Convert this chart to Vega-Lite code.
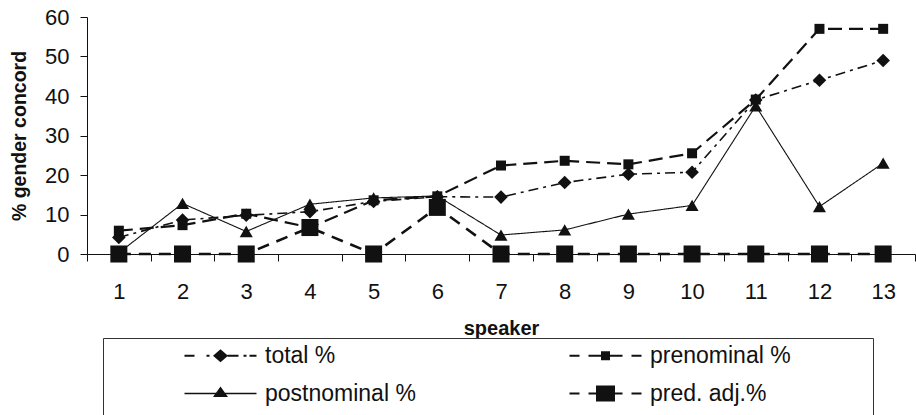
{
  "$schema": "https://vega.github.io/schema/vega-lite/v6.json",
  "width": 828,
  "height": 237,
  "autosize": {"type": "none"},
  "padding": {"left": 87, "top": 17, "right": 1, "bottom": 161},
  "background": "white",
  "config": {
    "view": {"stroke": null},
    "font": "Liberation Sans",
    "axis": {"grid": false, "domainColor": "#111", "tickColor": "#111", "labelColor": "#111", "titleColor": "#111", "labelFont": "Liberation Sans", "titleFont": "Liberation Sans"}
  },
  "data": {
    "values": [
      {"speaker": 1, "series": "total %", "value": 4.2},
      {"speaker": 2, "series": "total %", "value": 8.6},
      {"speaker": 3, "series": "total %", "value": 9.8},
      {"speaker": 4, "series": "total %", "value": 10.7},
      {"speaker": 5, "series": "total %", "value": 13.3},
      {"speaker": 6, "series": "total %", "value": 14.5},
      {"speaker": 7, "series": "total %", "value": 14.4},
      {"speaker": 8, "series": "total %", "value": 18.1},
      {"speaker": 9, "series": "total %", "value": 20.2},
      {"speaker": 10, "series": "total %", "value": 20.7},
      {"speaker": 11, "series": "total %", "value": 39.0},
      {"speaker": 12, "series": "total %", "value": 44.0},
      {"speaker": 13, "series": "total %", "value": 49.0},
      {"speaker": 1, "series": "prenominal %", "value": 5.9},
      {"speaker": 2, "series": "prenominal %", "value": 7.3},
      {"speaker": 3, "series": "prenominal %", "value": 10.2},
      {"speaker": 4, "series": "prenominal %", "value": 6.7},
      {"speaker": 5, "series": "prenominal %", "value": 13.6},
      {"speaker": 6, "series": "prenominal %", "value": 14.6},
      {"speaker": 7, "series": "prenominal %", "value": 22.4},
      {"speaker": 8, "series": "prenominal %", "value": 23.6},
      {"speaker": 9, "series": "prenominal %", "value": 22.7},
      {"speaker": 10, "series": "prenominal %", "value": 25.5},
      {"speaker": 11, "series": "prenominal %", "value": 39.1},
      {"speaker": 12, "series": "prenominal %", "value": 57.0},
      {"speaker": 13, "series": "prenominal %", "value": 57.0},
      {"speaker": 1, "series": "postnominal %", "value": 0.3},
      {"speaker": 2, "series": "postnominal %", "value": 12.8},
      {"speaker": 3, "series": "postnominal %", "value": 5.7},
      {"speaker": 4, "series": "postnominal %", "value": 12.6},
      {"speaker": 5, "series": "postnominal %", "value": 14.2},
      {"speaker": 6, "series": "postnominal %", "value": 14.7},
      {"speaker": 7, "series": "postnominal %", "value": 4.8},
      {"speaker": 8, "series": "postnominal %", "value": 6.1},
      {"speaker": 9, "series": "postnominal %", "value": 10.1},
      {"speaker": 10, "series": "postnominal %", "value": 12.3},
      {"speaker": 11, "series": "postnominal %", "value": 37.5},
      {"speaker": 12, "series": "postnominal %", "value": 12.0},
      {"speaker": 13, "series": "postnominal %", "value": 23.0},
      {"speaker": 1, "series": "pred. adj.%", "value": 0},
      {"speaker": 2, "series": "pred. adj.%", "value": 0},
      {"speaker": 3, "series": "pred. adj.%", "value": 0},
      {"speaker": 4, "series": "pred. adj.%", "value": 6.7},
      {"speaker": 5, "series": "pred. adj.%", "value": 0},
      {"speaker": 6, "series": "pred. adj.%", "value": 11.8},
      {"speaker": 7, "series": "pred. adj.%", "value": 0},
      {"speaker": 8, "series": "pred. adj.%", "value": 0},
      {"speaker": 9, "series": "pred. adj.%", "value": 0},
      {"speaker": 10, "series": "pred. adj.%", "value": 0},
      {"speaker": 11, "series": "pred. adj.%", "value": 0},
      {"speaker": 12, "series": "pred. adj.%", "value": 0},
      {"speaker": 13, "series": "pred. adj.%", "value": 0}
    ]
  },
  "encoding": {
    "x": {
      "field": "speaker",
      "type": "ordinal",
      "scale": {"type": "band", "paddingInner": 0, "paddingOuter": 0},
      "axis": {
        "title": "speaker",
        "titleFontSize": 20,
        "titleFontWeight": "bold",
        "titlePadding": 16,
        "labelFontSize": 22,
        "labelAngle": 0,
        "labelPadding": 20,
        "tickBand": "extent",
        "tickSize": 7
      }
    },
    "y": {
      "field": "value",
      "type": "quantitative",
      "scale": {"domain": [0, 60], "nice": false, "zero": true},
      "axis": {
        "title": "% gender concord",
        "titleFontSize": 19.5,
        "titleFontWeight": "bold",
        "titlePadding": 15,
        "labelFontSize": 22,
        "labelPadding": 11,
        "tickSize": 7,
        "values": [0, 10, 20, 30, 40, 50, 60]
      }
    }
  },
  "layer": [
    {
      "mark": {"type": "line", "color": "#111"},
      "encoding": {
        "strokeDash": {
          "field": "series",
          "type": "nominal",
          "scale": {"domain": ["total %", "prenominal %", "postnominal %", "pred. adj.%"], "range": [[10, 5, 3, 5], [14, 7], [1, 0], [12, 8]]},
          "legend": null
        },
        "strokeWidth": {
          "field": "series",
          "type": "nominal",
          "scale": {"type": "ordinal", "domain": ["total %", "prenominal %", "postnominal %", "pred. adj.%"], "range": [1.6, 2.2, 1.1, 2.6]},
          "legend": null
        }
      }
    },
    {
      "mark": {"type": "point", "filled": true, "opacity": 1, "color": "#111"},
      "encoding": {
        "shape": {
          "field": "series",
          "type": "nominal",
          "scale": {"domain": ["total %", "prenominal %", "postnominal %", "pred. adj.%"], "range": ["diamond", "square", "triangle-up", "square"]},
          "legend": null
        },
        "size": {
          "field": "series",
          "type": "nominal",
          "scale": {"type": "ordinal", "domain": ["total %", "prenominal %", "postnominal %", "pred. adj.%"], "range": [185, 100, 170, 290]},
          "legend": null
        }
      }
    },
    {
      "transform": [{"filter": "datum.value < -1"}],
      "mark": {"type": "point", "filled": true, "opacity": 1, "color": "#111"},
      "encoding": {
        "shape": {
          "field": "series",
          "type": "nominal",
          "scale": {
            "domain": ["total %", "prenominal %", "postnominal %", "pred. adj.%"],
            "range": [
              "M-3.6,-0.1H-2.6V0.1H-3.6ZM-1.4,-0.1H-1.1V0.1H-1.4ZM-0.75,0L0,-0.65L0.75,0L0,0.65ZM0.7,-0.1H1.8V0.1H0.7ZM2.3,-0.1H2.6V0.1H2.3ZM2.9,-0.1H3.6V0.1H2.9Z",
              "M26.1,0M-3.6,-0.1H-2.6V0.1H-3.6ZM-1.7,-0.1H1.7V0.1H-1.7ZM-0.45,-0.45H0.45V0.45H-0.45ZM2.6,-0.1H3.6V0.1H2.6Z",
              "M-3.6,-0.07H3.6V0.07H-3.6ZM-0.75,0.35L0,-0.7L0.75,0.35Z",
              "M26.1,0M-3.6,-0.1H-2.6V0.1H-3.6ZM-1.7,-0.1H1.7V0.1H-1.7ZM-0.95,-0.8H0.95V0.8H-0.95ZM2.6,-0.1H3.6V0.1H2.6Z"
            ]
          },
          "legend": {
            "orient": "none",
            "direction": "horizontal",
            "legendX": 16,
            "legendY": 321,
            "columns": 2,
            "title": "\u00a0",
            "titleOrient": "bottom",
            "titleFontSize": 12,
            "titlePadding": 2,
            "symbolSize": 400,
            "symbolOffset": 100,
            "symbolFillColor": "#111",
            "symbolStrokeWidth": 0,
            "symbolOpacity": 1,
            "labelFont": "Liberation Sans",
            "labelFontSize": 23,
            "labelColor": "#111",
            "labelOffset": 33,
            "labelLimit": 400,
            "columnPadding": 78,
            "rowPadding": 14,
            "padding": 6,
            "strokeColor": "#333",
            "fillColor": "white"
          }
        }
      }
    }
  ],
  "resolve": {"scale": {"shape": "independent"}}
}
